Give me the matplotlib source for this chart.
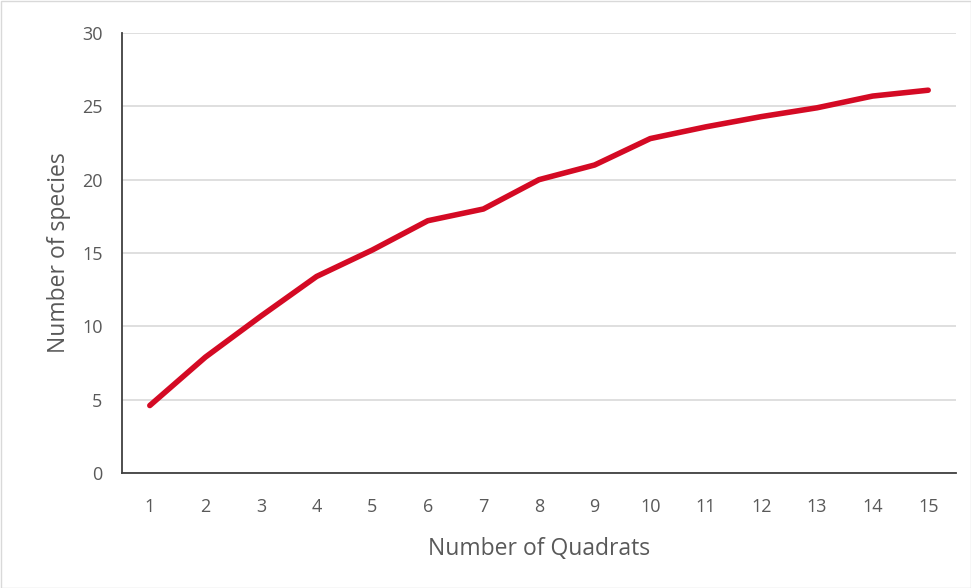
import matplotlib
matplotlib.use("Agg")
import matplotlib.pyplot as plt
from matplotlib.patches import Rectangle

quadrats = list(range(1, 16))
species = [4.6, 7.9, 10.7, 13.4, 15.2, 17.2, 18.0, 20.0, 21.0, 22.8, 23.6, 24.3, 24.9, 25.7, 26.1]
yticks = [0, 5, 10, 15, 20, 25, 30]

plt.rcParams['font.family'] = ['Open Sans', 'DejaVu Sans']
txt = '#595959'

fig = plt.figure(figsize=(9.71, 5.88), dpi=100)
ax = fig.add_axes([122/971, 1-473/588, (956-122)/971, (473-33)/588])
fig.patches.append(Rectangle((0.5/971, 0.5/588), 1-1/971, 1-1/588, transform=fig.transFigure,
                             fill=False, edgecolor='#d9d9d9', linewidth=1))

ax.plot(quadrats, species, color='#d40a24', linewidth=4, solid_capstyle='round', solid_joinstyle='round', zorder=3)
ax.set_xlim(0.5, 15.5)
ax.set_ylim(0, 30)
ax.set_yticks(yticks)
ax.set_xticks(quadrats)
ax.grid(axis='y', color='#d9d9d9', linewidth=1.2)
ax.set_axisbelow(True)
for s in ['top', 'right']:
    ax.spines[s].set_visible(False)
for s in ['left', 'bottom']:
    ax.spines[s].set_color('#404040')
    ax.spines[s].set_linewidth(1.3)
ax.tick_params(length=0, labelsize=13, colors=txt)
ax.tick_params(axis='x', pad=18)
ax.tick_params(axis='y', pad=14)
ax.set_xlabel('Number of Quadrats', fontsize=16.5, color=txt, labelpad=15)
ax.set_ylabel('Number of species', fontsize=16.5, color=txt, labelpad=8)

fig.savefig('out.png', dpi=100)
